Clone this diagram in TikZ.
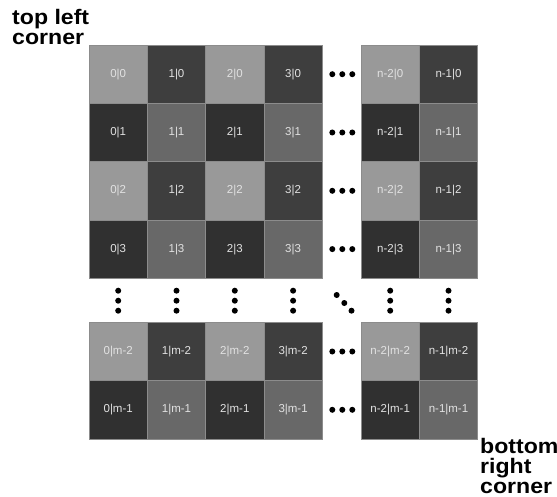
\documentclass[tikz,border=0pt]{standalone}
\usepackage{fontspec}
\setmainfont{Liberation Sans}
\newfontfamily\cornerfont[FakeStretch=1.1]{Liberation Sans}
\usepackage{tikz}
\usetikzlibrary{positioning}
\definecolor{cellA}{HTML}{999999}
\definecolor{cellB}{HTML}{3E3E3E}
\definecolor{cellC}{HTML}{303030}
\definecolor{cellD}{HTML}{686868}
\definecolor{celltext}{HTML}{E2E2E2}
\begin{document}
\begin{tikzpicture}[x=1pt,y=-1pt,
  cell/.style={rectangle, draw=black!45, line width=0.5pt, minimum width=58.3pt,
               minimum height=58.3pt, inner sep=0pt, font=\fontsize{11.5}{13}\selectfont, text=celltext},
  cell00/.style={cell, fill=cellA},
  cell10/.style={cell, fill=cellB},
  cell01/.style={cell, fill=cellC},
  cell11/.style={cell, fill=cellD},
  corner/.style={align=left, inner sep=0pt, font=\cornerfont\fontsize{21}{20}\selectfont\bfseries},
  dot/.style={fill=black}
]
  \useasboundingbox (0,0) rectangle (557,497);

  % cells of the grid
  \foreach \r/\ry/\rp in {0/74.2/0, 1/132.5/1, 2/190.8/0, 3/249.1/1, m-2/351.5/0, m-1/409.8/1} {
    \foreach \c/\cx/\cp in {0/118.2/0, 1/176.5/1, 2/234.8/0, 3/293.1/1, n-2/390.2/0, n-1/448.5/1} {
      \node[cell\cp\rp] (c\c r\r) at (\cx,\ry) {\c|\r};
    }
  }

  % dots between the blocks
  \foreach \r in {0,1,2,3,m-2,m-1} {
    \foreach \dx in {332.3,342.3,352.3}
      \fill[dot] (\dx,0 |- c0r\r) circle (3pt);
  }
  \foreach \c in {0,1,2,3,n-2,n-1} {
    \foreach \dy in {290.7,300.7,310.7}
      \fill[dot] (c\c r0 |- 0,\dy) circle (3pt);
  }
  \fill[dot] (336.7,295.0) circle (3pt);
  \fill[dot] (344.3,303.0) circle (3pt);
  \fill[dot] (351.5,310.7) circle (3pt);

  % corner labels
  \node[corner, anchor=base west] (tl) at (12,45) {top left\\corner};
  \node[corner, anchor=base west] (br) at (480,493) {bottom\\right\\corner};
\end{tikzpicture}
\end{document}
